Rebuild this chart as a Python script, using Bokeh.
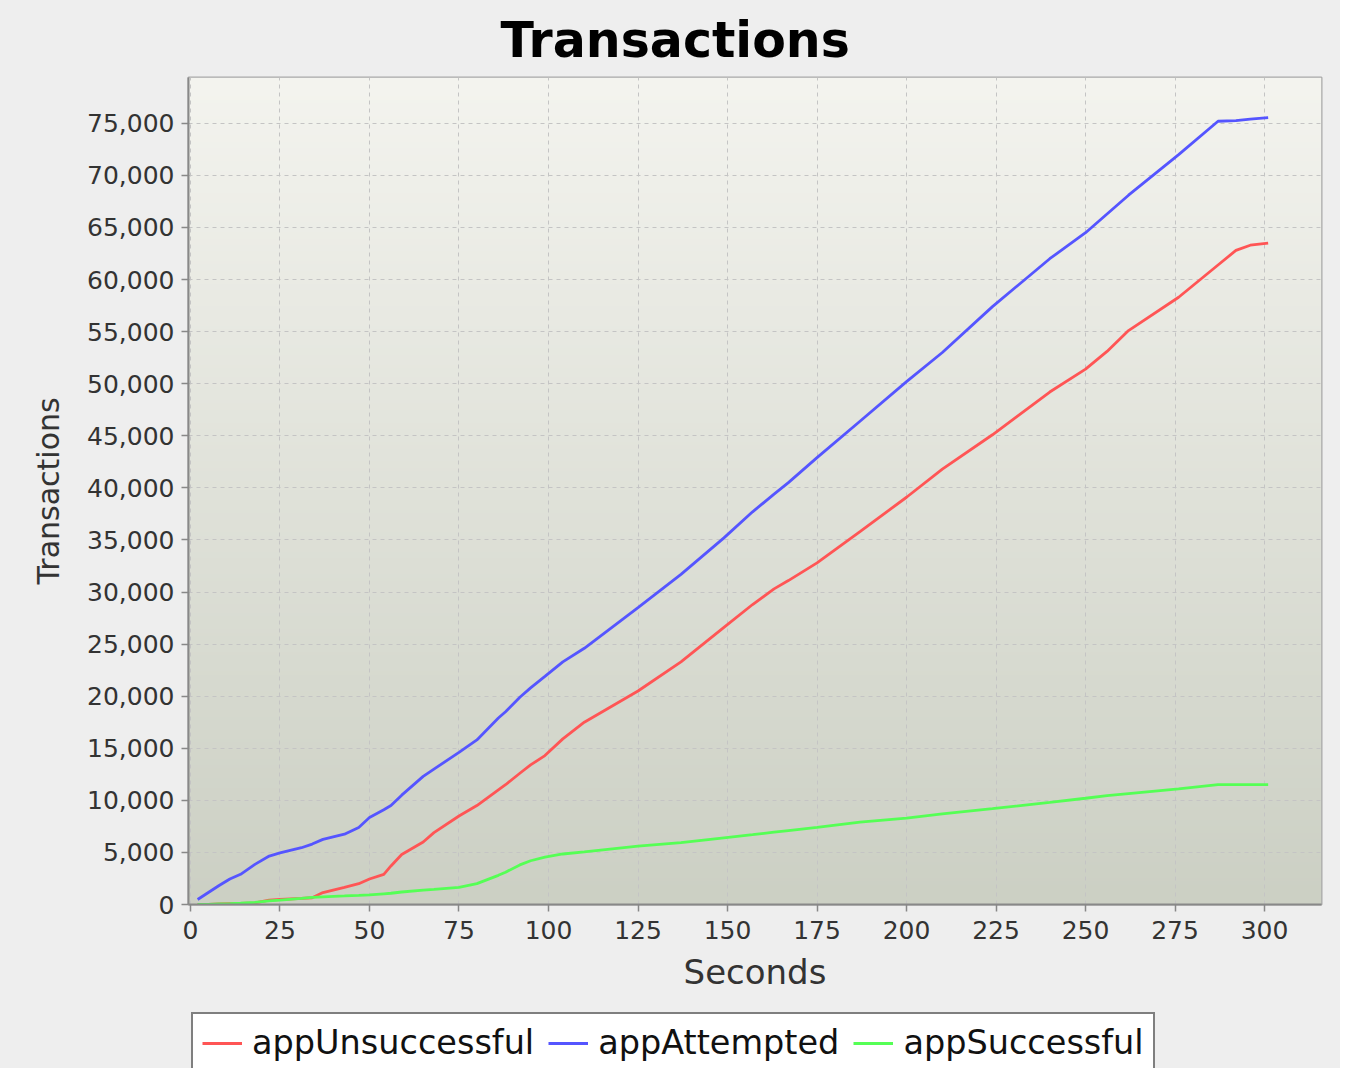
import numpy as np
from bokeh.plotting import figure
from bokeh.layouts import column
from bokeh.models import Range1d, NumeralTickFormatter, FixedTicker, Legend, LegendItem
from bokeh.embed import file_html
from bokeh.resources import INLINE

# ---- data ----
seconds = [2, 5, 8, 11, 14, 18, 22, 25, 31, 34, 37, 43, 47, 50, 54, 56, 59, 65, 68, 75,
           80, 86, 88, 92, 95, 99, 104, 110, 125, 137, 149, 157, 163, 167, 175, 187, 200,
           210, 224, 240, 250, 256, 262, 276, 287, 292, 296, 301]
app_attempted = [480, 1150, 1820, 2450, 2900, 3850, 4650, 4950, 5450, 5800, 6250, 6750, 7400,
                 8350, 9100, 9500, 10500, 12300, 13000, 14600, 15800, 17900, 18500, 19900,
                 20800, 21900, 23300, 24600, 28500, 31700, 35200, 37700, 39400, 40500, 42900,
                 46400, 50200, 53000, 57400, 62000, 64500, 66300, 68100, 72000, 75200, 75250,
                 75400, 75550]
app_unsuccessful = [0, 20, 50, 80, 110, 160, 420, 480, 580, 650, 1150, 1650, 2000, 2450, 2900,
                    3700, 4800, 6000, 6900, 8500, 9500, 11000, 11500, 12600, 13400, 14300,
                    15900, 17500, 20500, 23300, 26600, 28800, 30300, 31100, 32800, 35800,
                    39100, 41800, 45100, 49200, 51400, 53100, 55100, 58300, 61400, 62800,
                    63300, 63500]
app_successful = [0, 20, 50, 80, 120, 200, 350, 420, 580, 680, 740, 820, 880, 930, 1030, 1080,
                  1200, 1380, 1450, 1650, 2000, 2800, 3100, 3800, 4200, 4550, 4850, 5050, 5600,
                  5950, 6400, 6700, 6950, 7100, 7400, 7900, 8300, 8700, 9200, 9800, 10200,
                  10450, 10650, 11100, 11500, 11500, 11500, 11500]
series_names = ["appUnsuccessful", "appAttempted", "appSuccessful"]
series_colors = ["#ff5555", "#5555ff", "#55ff55"]
x_ticks = list(range(0, 301, 25))
y_ticks = list(range(0, 75001, 5000))

X0, X1 = -0.55, 315.9
Y0, Y1 = 0, 79400

FONT = "DejaVu Sans"
BG = "#eeeeee"

p = figure(width=1340, height=1004,
           x_range=Range1d(X0, X1), y_range=Range1d(Y0, Y1),
           output_backend="svg", toolbar_location=None,
           min_border_left=188, min_border_right=19, min_border_top=76, min_border_bottom=100,
           border_fill_color=BG, background_fill_color="#e0e2da")

# gradient background for the plot area
n = 256
frac = np.linspace(0, 1, n)[:, None]  # bottom -> top
bottom = np.array([204, 208, 196])
top = np.array([244, 244, 239])
cols = (bottom + (top - bottom) * frac).astype(np.uint32)
img = np.empty((n, 1), dtype=np.uint32)
view = img.view(dtype=np.uint8).reshape((n, 1, 4))
view[:, 0, 0] = cols[:, 0]
view[:, 0, 1] = cols[:, 1]
view[:, 0, 2] = cols[:, 2]
view[:, 0, 3] = 255
p.image_rgba(image=[img], x=X0, y=Y0, dw=X1 - X0, dh=Y1 - Y0, level="image")

series_values = [app_unsuccessful, app_attempted, app_successful]
for vals, col in zip(series_values, series_colors):
    p.line(seconds, vals, line_color=col, line_width=2.8)

# title
p.title.text = "Transactions"
p.title.text_font = FONT
p.title.text_font_size = "49px"
p.title.text_font_style = "bold"
p.title.text_color = "#000000"
p.title.align = "left"
p.title.offset = 312
p.title.standoff = 18

# axes
for ax in (p.xaxis[0], p.yaxis[0]):
    ax.axis_line_color = "#888888"
    ax.axis_line_width = 2
    ax.major_tick_line_color = "#888888"
    ax.major_tick_line_width = 1.5
    ax.major_tick_out = 7
    ax.major_tick_in = 0
    ax.minor_tick_line_color = None
    ax.major_label_text_font = FONT
    ax.major_label_text_font_size = "25px"
    ax.major_label_text_color = "#333333"
    ax.axis_label_text_font = FONT
    ax.axis_label_text_font_style = "normal"
    ax.axis_label_text_color = "#333333"

p.xaxis.major_label_standoff = 9
p.yaxis.major_label_standoff = 7
p.xaxis.ticker = FixedTicker(ticks=x_ticks)
p.yaxis.ticker = FixedTicker(ticks=y_ticks)
p.yaxis.formatter = NumeralTickFormatter(format="0,0")
p.xaxis.axis_label = "Seconds"
p.yaxis.axis_label = "Transactions"
p.xaxis.axis_label_text_font_size = "34px"
p.yaxis.axis_label_text_font_size = "30px"
p.xaxis.axis_label_standoff = 10
p.yaxis.axis_label_standoff = 18

# grid
for g in (p.xgrid[0], p.ygrid[0]):
    g.grid_line_color = "#c4c4c4"
    g.grid_line_dash = "4 4"
    g.grid_line_width = 1

p.outline_line_color = "#a8a8a8"
p.outline_line_width = 2

# ---- legend strip below the chart (series drawn outside its view, only swatches show) ----
lf = figure(width=1340, height=64, x_range=Range1d(-1000, -999), y_range=Range1d(0, 1),
            output_backend="svg", toolbar_location=None,
            min_border=0, border_fill_color=BG, background_fill_color=BG)
lf.axis.visible = False
lf.grid.visible = False
lf.outline_line_color = None
items = []
for name, vals, col in zip(series_names, series_values, series_colors):
    r = lf.line(seconds, vals, line_color=col, line_width=2.8)
    items.append(LegendItem(label=name, renderers=[r]))

legend = Legend(items=items, orientation="horizontal", location=(3, -5),
                border_line_color="#000000", border_line_width=2.5,
                background_fill_color="#ffffff", background_fill_alpha=1.0,
                label_text_font=FONT, label_text_font_size="33.5px",
                label_text_color="#111111",
                glyph_width=40, glyph_height=20, spacing=14, padding=9,
                label_standoff=10, margin=0)
lf.add_layout(legend, "center")

layout = column(p, lf, spacing=0, styles={"background-color": BG})
open("out.html", "w").write(file_html(layout, INLINE))
